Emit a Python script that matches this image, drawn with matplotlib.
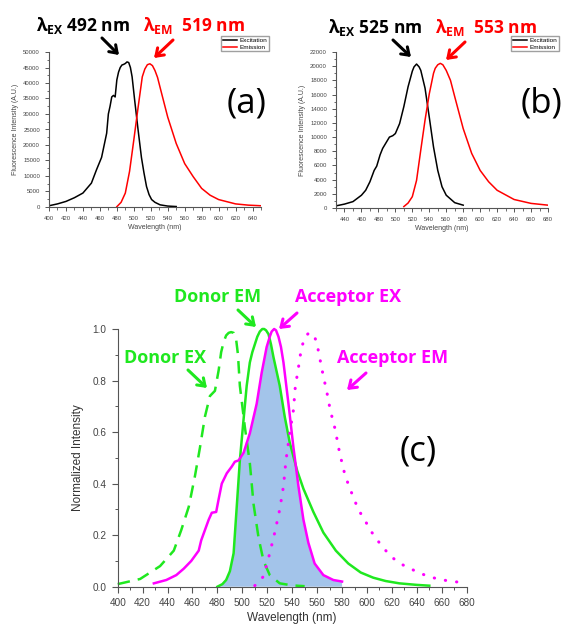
import numpy as np
import matplotlib
matplotlib.use("Agg")
import matplotlib.pyplot as plt
from matplotlib.patches import Polygon, FancyArrowPatch

plt.rcParams['font.family'] = ['Liberation Sans', 'DejaVu Sans']
plt.rcParams['mathtext.fontset'] = 'custom'
plt.rcParams['mathtext.rm'] = 'Open Sans:bold'
plt.rcParams['mathtext.it'] = 'Open Sans:bold'
plt.rcParams['mathtext.bf'] = 'Open Sans:bold'

# ---- panel (a): donor spectra ----
a_ex_nm = [400, 410, 420, 430, 440, 450, 456, 462, 468, 470, 472, 474, 476, 478,
           480, 482, 484, 486, 488, 490, 492, 494, 496, 498, 501, 505, 509, 512,
           515, 518, 521, 525, 531, 540, 550]
a_ex_val = [400, 1000, 1800, 3000, 4500, 7700, 12000, 16000, 23800, 30000, 32500,
            35500, 36000, 35500, 41000, 43500, 45000, 45800, 46000, 46300, 46800,
            46600, 45000, 42000, 34500, 25000, 16000, 11000, 6600, 4000, 2400,
            1500, 700, 300, 150]
a_em_nm = [480, 485, 490, 495, 500, 505, 510, 513, 516, 519, 522, 525, 528, 532,
           540, 550, 560, 570, 580, 590, 600, 620, 635, 650]
a_em_val = [100, 1500, 4500, 11500, 21600, 32000, 42000, 44500, 45900, 46200,
            45600, 44000, 41800, 37500, 29000, 20500, 14000, 9800, 6000, 3800,
            2400, 1000, 600, 400]

# ---- panel (b): acceptor spectra ----
b_ex_nm = [430, 440, 450, 460, 465, 470, 475, 478, 482, 485, 490, 493, 497, 500,
           505, 510, 515, 520, 522, 525, 528, 530, 535, 540, 545, 550, 555, 560,
           570, 580]
b_ex_val = [300, 550, 900, 1800, 2500, 3700, 5300, 5900, 7500, 8400, 9400, 10000,
            10200, 10500, 11900, 14300, 17100, 19300, 19900, 20300, 19900, 19400,
            16900, 12800, 8600, 5300, 3000, 1800, 750, 400]
b_em_nm = [510, 515, 520, 525, 530, 535, 540, 545, 547, 550, 553, 556, 560, 565,
           570, 580, 590, 600, 610, 620, 640, 660, 680]
b_em_val = [200, 700, 1600, 3900, 8200, 12400, 16100, 19000, 19700, 20200, 20400,
            20200, 19400, 18000, 15700, 11200, 7700, 5300, 3700, 2500, 1200, 650,
            400]

# ---- panel (c): normalized spectra ----
don_ex_nm = [400, 418, 434, 445, 451, 457, 462, 466, 470, 474, 478, 481, 483,
             485, 487, 489, 491, 493, 495, 496.5, 498, 502, 506, 509, 513, 517,
             522, 530, 540, 550]
don_ex_val = [0.01, 0.03, 0.08, 0.14, 0.22, 0.31, 0.43, 0.54, 0.66, 0.74, 0.76,
              0.84, 0.91, 0.95, 0.975, 0.985, 0.988, 0.985, 0.96, 0.9, 0.78,
              0.62, 0.48, 0.32, 0.19, 0.10, 0.045, 0.013, 0.005, 0.002]
don_em_nm = [480, 484, 487, 490, 493, 495.5, 498, 501, 503.5, 506, 508, 510,
             512, 514, 516, 517.5, 519, 521, 523, 525, 530, 534, 538, 544, 549,
             557, 565, 575, 585, 595, 605, 615, 626, 640, 650]
don_em_val = [0.0, 0.01, 0.026, 0.06, 0.13, 0.31, 0.49, 0.65, 0.78, 0.87, 0.91,
              0.94, 0.97, 0.99, 1.0, 1.0, 0.995, 0.98, 0.94, 0.89, 0.78, 0.66,
              0.56, 0.45, 0.38, 0.29, 0.21, 0.14, 0.09, 0.055, 0.035, 0.022,
              0.013, 0.007, 0.004]
acc_ex_nm = [429, 439, 447, 453, 459, 465, 467, 470, 473, 475.5, 479, 481, 483.5,
             487.5, 491.5, 494, 497, 501, 506, 511.5, 515.5, 519.5, 522, 523.5,
             525.5, 527, 529, 531, 533, 537, 541, 545, 549, 553, 558, 565, 573,
             580]
acc_ex_val = [0.013, 0.026, 0.045, 0.07, 0.10, 0.14, 0.18, 0.22, 0.26, 0.287,
              0.29, 0.34, 0.40, 0.44, 0.466, 0.485, 0.49, 0.52, 0.595, 0.71, 0.83,
              0.93, 0.97, 0.99, 1.0, 0.995, 0.97, 0.93, 0.87, 0.71, 0.54, 0.39,
              0.26, 0.17, 0.09, 0.045, 0.026, 0.02]
acc_em_nm = [510, 517, 522, 526, 530, 533, 535, 538, 541, 542.5, 545, 547.5, 551,
             553, 555.5, 558, 560, 564, 568, 570.5, 574.5, 578, 582.5, 588, 593,
             598, 604, 610, 618.5, 626.5, 634.5, 642.5, 652, 661, 670.5, 680]
acc_em_val = [0.004, 0.04, 0.13, 0.21, 0.30, 0.39, 0.49, 0.595, 0.686, 0.776,
              0.85, 0.93, 0.973, 0.983, 0.985, 0.97, 0.94, 0.84, 0.75, 0.686,
              0.61, 0.52, 0.43, 0.36, 0.30, 0.26, 0.21, 0.17, 0.12, 0.09, 0.071,
              0.052, 0.036, 0.026, 0.019, 0.016]

GREEN = '#1fe81f'
MAGENTA = '#ff00ff'
RED = '#ff0000'
TICK_COLOR = '#444444'

fig = plt.figure(figsize=(5.66, 6.25), dpi=100)


def style_axes(ax, fs):
    for side in ['top', 'right']:
        ax.spines[side].set_visible(False)
    for side in ['left', 'bottom']:
        ax.spines[side].set_color('#555555')
        ax.spines[side].set_linewidth(0.8)
    ax.tick_params(which='both', direction='out', colors='#555555',
                   labelcolor=TICK_COLOR, labelsize=fs)
    ax.tick_params(which='major', length=3, width=0.7)
    ax.tick_params(which='minor', length=1.8, width=0.6)


def label_arrow(x0, y0, x1, y1, color):
    # coordinates in figure pixels, measured from the top-left corner
    fig.add_artist(FancyArrowPatch(
        (x0 / 566, 1 - y0 / 625), (x1 / 566, 1 - y1 / 625),
        transform=fig.transFigure,
        arrowstyle='->,head_length=5,head_width=3.5',
        color=color, lw=2.2, shrinkA=0, shrinkB=0))


def fig_text(x, y, s, **kw):
    fig.text(x / 566, 1 - y / 625, s, **kw)


# ---------------- panel (a) ----------------
ax_a = fig.add_axes([49 / 566, 1 - 207 / 625, 212 / 566, 155 / 625])
la1, = ax_a.plot(a_ex_nm, a_ex_val, color='black', lw=1.1, label='Excitation')
la2, = ax_a.plot(a_em_nm, a_em_val, color=RED, lw=1.1, label='Emission')
ax_a.set_xlim(400, 650)
ax_a.set_ylim(0, 50000)
ax_a.set_xticks(np.arange(400, 641, 20))
ax_a.set_xticks(np.arange(400, 651, 10), minor=True)
ax_a.set_yticks(np.arange(0, 50001, 5000))
ax_a.set_yticks(np.arange(0, 50001, 2500), minor=True)
style_axes(ax_a, 4.3)
ax_a.set_xlabel('Wavelength (nm)', fontsize=5, color=TICK_COLOR, labelpad=2)
ax_a.set_ylabel('Fluorescence Intensity (A.U.)', fontsize=5, color=TICK_COLOR,
                labelpad=3)
fig.legend(handles=[la1, la2], loc='upper left',
           bbox_to_anchor=(221 / 566, 1 - 36 / 625), fontsize=4.6,
           frameon=True, fancybox=False, edgecolor='#888888',
           handlelength=2.2, handletextpad=0.4, borderpad=0.25,
           labelspacing=0.2, borderaxespad=0)

# ---------------- panel (b) ----------------
ax_b = fig.add_axes([336 / 566, 1 - 208 / 625, 212 / 566, 156 / 625])
lb1, = ax_b.plot(b_ex_nm, b_ex_val, color='black', lw=1.1, label='Excitation')
lb2, = ax_b.plot(b_em_nm, b_em_val, color=RED, lw=1.1, label='Emission')
ax_b.set_xlim(430, 680)
ax_b.set_ylim(0, 22000)
ax_b.set_xticks(np.arange(440, 681, 20))
ax_b.set_xticks(np.arange(430, 681, 10), minor=True)
ax_b.set_yticks(np.arange(0, 22001, 2000))
ax_b.set_yticks(np.arange(0, 22001, 1000), minor=True)
style_axes(ax_b, 4.3)
ax_b.set_xlabel('Wavelength (nm)', fontsize=5, color=TICK_COLOR, labelpad=2)
ax_b.set_ylabel('Fluorescence Intensity (A.U.)', fontsize=5, color=TICK_COLOR,
                labelpad=3)
fig.legend(handles=[lb1, lb2], loc='upper left',
           bbox_to_anchor=(511 / 566, 1 - 36 / 625), fontsize=4.6,
           frameon=True, fancybox=False, edgecolor='#888888',
           handlelength=2.2, handletextpad=0.4, borderpad=0.25,
           labelspacing=0.2, borderaxespad=0)

# peak labels (a) and (b)
bold = dict(fontsize=12.5, family='Open Sans', fontweight='bold', va='center')
fig_text(36, 26, r'λ$_{\mathrm{EX}}$ 492 nm', color='black', **bold)
fig_text(143, 26, r'λ$_{\mathrm{EM}}$  519 nm', color=RED, **bold)
fig_text(328, 27, r'λ$_{\mathrm{EX}}$ 525 nm', color='black', **bold)
fig_text(435, 27, r'λ$_{\mathrm{EM}}$  553 nm', color=RED, **bold)
label_arrow(102, 38, 119, 55, 'black')
label_arrow(173, 40, 154, 58, RED)
label_arrow(393, 40, 411, 57, 'black')
label_arrow(465, 42, 446, 60, RED)

big = dict(fontsize=25, family='Open Sans', va='center', ha='center')
fig_text(247, 104, '(a)', **big)
fig_text(541, 104, '(b)', **big)

# ---------------- panel (c) ----------------
ax_c = fig.add_axes([117.7 / 566, 1 - 586.7 / 625, 349 / 566, 257.7 / 625])
ax_c.plot(don_ex_nm, don_ex_val, color=GREEN, lw=1.8, dashes=(5, 3.2),
          clip_on=False)
ax_c.plot(don_em_nm, don_em_val, color=GREEN, lw=1.8, clip_on=False)
ax_c.plot(acc_ex_nm, acc_ex_val, color=MAGENTA, lw=1.8, clip_on=False)
ax_c.plot(acc_em_nm, acc_em_val, color=MAGENTA, lw=2.2,
          linestyle=(0, (0.1, 3.6)), dash_capstyle='round', clip_on=False)

# spectral overlap: area under donor EM clipped by area under acceptor EX
overlap = ax_c.fill_between(don_em_nm, don_em_val, color='#a3c4ea', lw=0,
                            zorder=1)
clip_poly = Polygon(np.column_stack([[acc_ex_nm[0]] + acc_ex_nm + [acc_ex_nm[-1]],
                                     [0] + acc_ex_val + [0]]),
                    closed=True, transform=ax_c.transData, facecolor='none',
                    edgecolor='none')
ax_c.add_patch(clip_poly)
overlap.set_clip_path(clip_poly)

ax_c.set_xlim(400, 680)
ax_c.set_ylim(0, 1.0)
ax_c.set_xticks(np.arange(400, 681, 20))
ax_c.set_xticks(np.arange(400, 681, 10), minor=True)
ax_c.set_yticks(np.arange(0, 1.01, 0.2))
ax_c.set_yticks(np.arange(0, 1.01, 0.1), minor=True)
ax_c.set_yticklabels(['0.0', '0.2', '0.4', '0.6', '0.8', '1.0'])
style_axes(ax_c, 7.2)
ax_c.tick_params(which='major', length=4.5, width=0.8)
ax_c.tick_params(which='minor', length=2.5, width=0.7)
ax_c.set_xlabel('Wavelength (nm)', fontsize=8.5, color='#333333', labelpad=3)
ax_c.set_ylabel('Normalized Intensity', fontsize=8.5, color='#333333',
                labelpad=6)

lab = dict(fontsize=13, family='Open Sans', fontweight='bold', va='center')
fig_text(174, 297, 'Donor EM', color=GREEN, **lab)
fig_text(295, 297, 'Acceptor EX', color=MAGENTA, **lab)
fig_text(124, 358, 'Donor EX', color=GREEN, **lab)
fig_text(337, 358, 'Acceptor EM', color=MAGENTA, **lab)
label_arrow(238, 310, 256, 327, GREEN)
label_arrow(297, 313, 279, 329, MAGENTA)
label_arrow(188, 370, 207, 388, GREEN)
label_arrow(366, 373, 347, 390, MAGENTA)

fig_text(418, 452, '(c)', **big)

fig.savefig('out.png', dpi=100)
